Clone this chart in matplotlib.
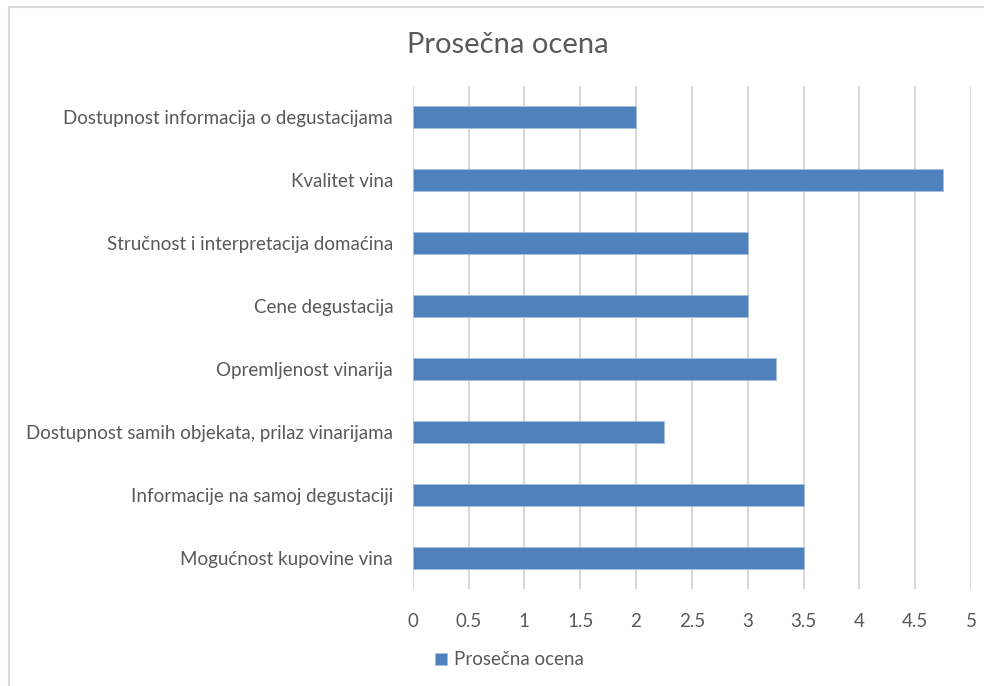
import matplotlib.pyplot as plt
from matplotlib.patches import Rectangle

categories = [
    "Dostupnost informacija o degustacijama",
    "Kvalitet vina",
    "Stručnost i interpretacija domaćina",
    "Cene degustacija",
    "Opremljenost vinarija",
    "Dostupnost samih objekata, prilaz vinarijama",
    "Informacije na samoj degustaciji",
    "Mogućnost kupovine vina",
]
scores = [2.0, 4.75, 3.0, 3.0, 3.25, 2.25, 3.5, 3.5]
ticks = [0, 0.5, 1, 1.5, 2, 2.5, 3, 3.5, 4, 4.5, 5]
tick_labels = ["0", "0.5", "1", "1.5", "2", "2.5", "3", "3.5", "4", "4.5", "5"]

plt.rcParams["font.family"] = ["Lato", "DejaVu Sans"]
text_grey = "#595959"
bar_blue = "#4f81bd"

fig = plt.figure(figsize=(9.84, 6.86), dpi=100)
fig.patches.append(Rectangle((0.0095, -0.01), 1.2, 1.0, transform=fig.transFigure,
                             fill=False, edgecolor="#d9d9d9", linewidth=1.5))

ax = fig.add_axes([0.4194, 0.1414, 0.5674, 0.7332])
pos = list(range(len(categories)))
ax.barh(pos, scores, height=0.35, color=bar_blue, edgecolor="#a7bfde",
        linewidth=0.6, label="Prosečna ocena", zorder=3)
ax.set_ylim(len(categories) - 0.5, -0.5)
ax.set_xlim(0, 5)
ax.set_yticks(pos)
ax.set_yticklabels(categories, fontsize=13.5, color=text_grey)
ax.set_xticks(ticks)
ax.set_xticklabels(tick_labels, fontsize=13.5, color=text_grey)
ax.tick_params(length=0)
ax.tick_params(axis="y", pad=14)
ax.tick_params(axis="x", pad=17)
ax.grid(axis="x", color="#d9d9d9", linewidth=1.5, zorder=0)
for s in ax.spines.values():
    s.set_visible(False)

fig.text(0.516, 0.934, "Prosečna ocena", fontsize=21, color=text_grey,
         ha="center", va="center")
ax.legend(loc="center", bbox_to_anchor=(0.518, 0.038), bbox_transform=fig.transFigure,
          frameon=False, fontsize=13.5, labelcolor=text_grey,
          handlelength=0.6, handleheight=0.6, handletextpad=0.4)

fig.savefig("out.png", dpi=100)
